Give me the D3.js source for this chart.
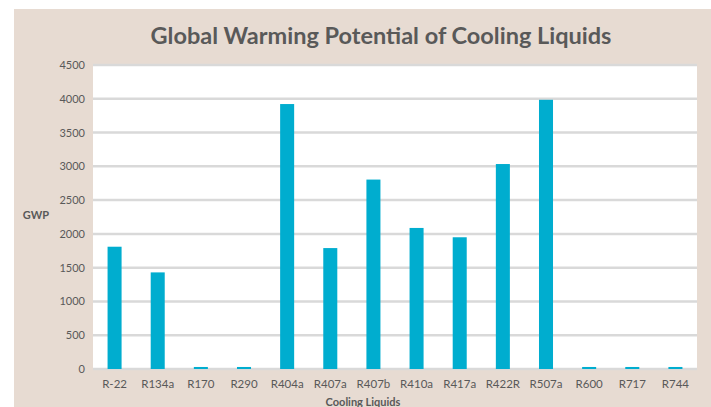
<!DOCTYPE html>
<html>
<head>
<meta charset="utf-8">
<script src="https://cdn.jsdelivr.net/npm/d3@7"></script>
<style>
  body { margin: 0; background: #fff; }
  text { font-family: Lato, "Open Sans", sans-serif; fill: #595959; }
</style>
</head>
<body>
<script>
// chart data
var refrigerants = ["R-22", "R134a", "R170", "R290", "R404a", "R407a", "R407b",
                    "R410a", "R417a", "R422R", "R507a", "R600", "R717", "R744"];
var gwpValues = [1810, 1430, 30, 30, 3922, 1790, 2804, 2088, 1950, 3034, 3985, 30, 30, 30];
var yTicks = [0, 500, 1000, 1500, 2000, 2500, 3000, 3500, 4000, 4500];

var width = 711, height = 407;
var plot = {left: 93, right: 697, top: 65, bottom: 369};

var svg = d3.select("body").append("svg")
    .attr("width", width)
    .attr("height", height);

// beige chart background
svg.append("rect")
    .attr("x", 14).attr("y", 9)
    .attr("width", width - 14).attr("height", height - 9)
    .style("fill", "#e7dbd2");

svg.append("rect")
    .attr("x", plot.left).attr("y", plot.top - 1)
    .attr("width", plot.right - plot.left).attr("height", plot.bottom - plot.top + 1)
    .style("fill", "#ffffff");

var x = d3.scaleBand()
    .domain(refrigerants)
    .range([plot.left, plot.right])
    .paddingInner(0.675)
    .paddingOuter(0.3375);

var y = d3.scaleLinear()
    .domain([0, 4500])
    .range([plot.bottom, plot.top]);

// gridlines
svg.append("g").selectAll("line")
    .data(yTicks)
    .enter()
    .append("line")
    .attr("x1", plot.left).attr("x2", plot.right)
    .attr("y1", function(d) { return y(d); })
    .attr("y2", function(d) { return y(d); })
    .style("stroke", "#d9d9d9")
    .style("stroke-width", 2.5);

// bars
svg.append("g").selectAll("rect")
    .data(gwpValues)
    .enter()
    .append("rect")
    .attr("x", function(d, i) { return x(refrigerants[i]); })
    .attr("width", x.bandwidth())
    .attr("y", function(d) { return y(d); })
    .attr("height", function(d) { return y(0) - y(d); })
    .style("fill", "#00adcf");

// y axis labels
var yAxis = d3.axisLeft(y).tickValues(yTicks).tickFormat(d3.format("d")).tickSize(0).tickPadding(8);
var gy = svg.append("g").attr("transform", "translate(" + plot.left + ",0)").call(yAxis);
gy.select(".domain").remove();
gy.selectAll("text").style("font-size", "11px").style("fill", "#595959");

// x axis labels
var xAxis = d3.axisBottom(x).tickSize(0).tickPadding(11);
var gx = svg.append("g").attr("transform", "translate(0," + plot.bottom + ")").call(xAxis);
gx.select(".domain").remove();
gx.selectAll("text").style("font-size", "11.5px").style("fill", "#595959");

// titles
svg.append("text")
    .attr("x", 381).attr("y", 44)
    .attr("text-anchor", "middle")
    .style("font-size", "23.5px")
    .style("font-weight", "bold")
    .text("Global Warming Potential of Cooling Liquids");

svg.append("text")
    .attr("x", 36).attr("y", 219)
    .attr("text-anchor", "middle")
    .style("font-size", "11px")
    .style("font-weight", "bold")
    .text("GWP");

svg.append("text")
    .attr("x", 363).attr("y", 406)
    .attr("text-anchor", "middle")
    .style("font-size", "11px")
    .style("font-weight", "bold")
    .text("Cooling Liquids");
</script>
</body>
</html>
